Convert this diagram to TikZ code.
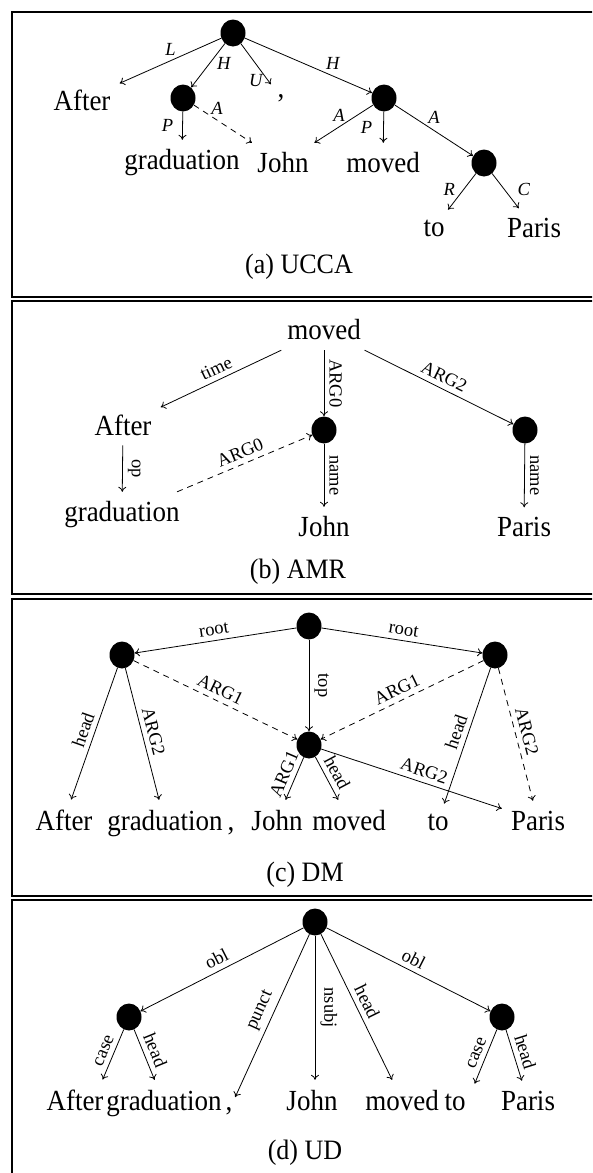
\documentclass[tikz,border=0pt]{standalone}
\usepackage{fontspec}
\setmainfont{Liberation Serif}
\usetikzlibrary{arrows.meta}

\begin{document}
\begin{tikzpicture}[x=1pt, y=-1pt,
	dot/.style={circle, fill=black, minimum size=25pt, inner sep=0pt, yscale=1.08},
	word/.style={font=\fontsize{27}{32}\selectfont, inner sep=9pt, yscale=1.08},
	lbl/.style={font=\fontsize{18.5}{22}\selectfont, inner sep=5pt},
	rel/.style={font=\fontsize{18.5}{22}\selectfont\itshape, inner sep=5pt},
	captext/.style={font=\fontsize{26}{30}\selectfont, yscale=1.08},
	boxline/.style={line width=1.7pt},
	dep/.style={dash pattern=on 6pt off 5pt},
	>={To[length=5pt,width=8pt]}]

	\useasboundingbox (0,0) rectangle (592,1173);
	\clip (0,0) rectangle (592,1173);

	\draw[boxline] (12,12) rectangle (640,297);
	\draw[boxline] (12,301) rectangle (640,594);
	\draw[boxline] (12,599) rectangle (640,896);
	\draw[boxline] (12,900) rectangle (640,1200);

	\node (u0) [dot] at (233,33) {};
	\node (u1) [word] at (82,100) {After};
	\node (u2) [dot] at (183,98) {};
	\node (u3) [word] at (281,98) {,};
	\node (u4) [dot] at (384,98) {};
	\node (u5) [word] at (182,163) {graduation};
	\node (u6) [word] at (283,163) {John};
	\node (u7) [word] at (383,163) {moved};
	\node (u8) [dot] at (484,163) {};
	\node (u9) [word] at (434,228) {to};
	\node (u10) [word] at (534,228) {Paris};
	\node (u11) [captext] at (299,267) {(a) UCCA};

	\path[->, line width=0.8pt]
	(u0) edge node[rel, above] {L} (u1)
	(u0) edge node[rel, pos=0.45, right=2pt] {H} (u2)
	(u0) edge node[rel, pos=0.9, left] {U} (u3)
	(u0) edge node[rel, pos=0.62, above right=-3pt] {H} (u4)
	(u2) edge node[rel, left=4pt] {P} (u5)
	(u2) edge[dep] node[rel, pos=0.4, above] {A} (u6)
	(u4) edge node[rel, pos=0.58, above] {A} (u6)
	(u4) edge node[rel, left=6pt] {P} (u7)
	(u4) edge node[rel, above=2pt] {A} (u8)
	(u8) edge node[rel, pos=0.45, left=3pt] {R} (u9)
	(u8) edge node[rel, pos=0.45, right=8pt] {C} (u10);

	\node (a0) [word] at (324,330) {moved};
	\node (a1) [word] at (123,425) {After};
	\node (a2) [dot] at (324,430) {};
	\node (a3) [dot] at (525,430) {};
	\node (a4) [word] at (122,515) {graduation};
	\node (a5) [word] at (324,527) {John};
	\node (a6) [word] at (524,527) {Paris};
	\node (a7) [captext] at (298,572) {(b) AMR};

	\path[->, line width=0.8pt]
	(a0) edge node[lbl, sloped, above] {time} (a1)
	(a0) edge node[lbl, rotate=-90, above] {ARG0} (a2)
	(a0) edge node[lbl, sloped, above] {ARG2} (a3)
	(a1) edge node[lbl, rotate=-90, above] {op} (a4)
	(a4) edge[dep] node[lbl, sloped, above] {ARG0} (a2)
	(a2) edge node[lbl, rotate=-90, above] {name} (a5)
	(a3) edge node[lbl, rotate=-90, above] {name} (a6);

	\node (d0) [dot] at (309,626) {};
	\node (d1) [dot] at (122,655) {};
	\node (d2) [dot] at (495,655) {};
	\node (d3) [dot] at (309,745) {};
	\node (d4) [word, anchor=base] at (64,830) {After};
	\node (d5) [word, anchor=base] at (165,830) {graduation};
	\node (d6) [word, anchor=base] at (231,830) {,};
	\node (d7) [word, anchor=base] at (277,830) {John};
	\node (d8) [word, anchor=base] at (349,830) {moved};
	\node (d9) [word, anchor=base] at (438,830) {to};
	\node (d10) [word, anchor=base] at (538,830) {Paris};
	\node (d11) [captext] at (305,875) {(c) DM};

	\path[->, line width=0.8pt]
	(d0) edge node[lbl, sloped, above] {root} (d1)
	(d0) edge node[lbl, sloped, above] {root} (d2)
	(d0) edge node[lbl, rotate=-90, above] {top} (d3)
	(d1) edge[dep] node[lbl, sloped, above] {ARG1} (d3)
	(d2) edge[dep] node[lbl, sloped, above] {ARG1} (d3)
	(d1) edge node[lbl, sloped, above] {head} (d4)
	(d1) edge node[lbl, sloped, above] {ARG2} (d5)
	(d3) edge node[lbl, sloped, above] {ARG1} (d7)
	(d3) edge node[lbl, sloped, above] {head} (d8)
	(d3) edge node[lbl, sloped, pos=0.55, above] {ARG2} (d10)
	(d2) edge node[lbl, sloped, above] {head} (d9)
	(d2) edge[dep] node[lbl, sloped, above] {ARG2} (d10);

	\node (s0) [dot] at (315,922) {};
	\node (s1) [dot] at (129,1017) {};
	\node (s2) [dot] at (502,1017) {};
	\node (s3) [word, anchor=base] at (75,1110) {After};
	\node (s4) [word, anchor=base] at (164,1110) {graduation};
	\node (s5) [word, anchor=base] at (229,1110) {,};
	\node (s6) [word, anchor=base] at (312,1110) {John};
	\node (s7) [word, anchor=base] at (402,1110) {moved};
	\node (s8) [word, anchor=base] at (455,1110) {to};
	\node (s9) [word, anchor=base] at (528,1110) {Paris};
	\node (s10) [captext] at (305,1153) {(d) UD};

	\path[->, line width=0.8pt]
	(s0) edge node[lbl, sloped, above] {obl} (s1)
	(s0) edge node[lbl, sloped, above] {punct} (s5)
	(s0) edge node[lbl, rotate=-90, above] {nsubj} (s0 |- s6.north)
	(s0) edge node[lbl, sloped, above] {head} (s7)
	(s0) edge node[lbl, sloped, above] {obl} (s2)
	(s1) edge node[lbl, sloped, above] {case} ([xshift=-10pt]s3.north east)
	(s1) edge node[lbl, sloped, above] {head} (s4)
	(s2) edge node[lbl, sloped, above] {case} (s8.north east)
	(s2) edge node[lbl, sloped, above] {head} (s9);

\end{tikzpicture}
\end{document}
